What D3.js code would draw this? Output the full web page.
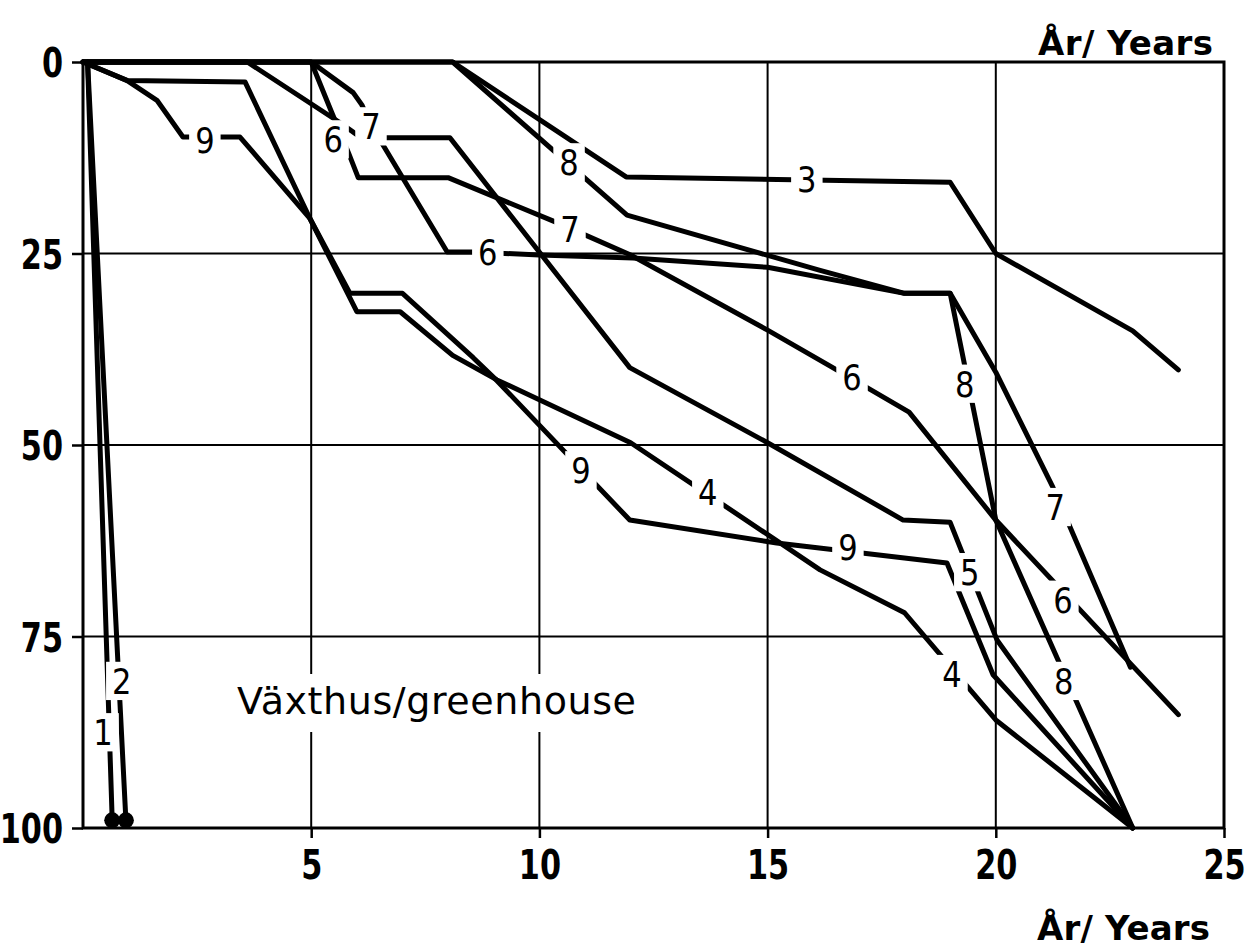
<!DOCTYPE html>
<html>
<head>
<meta charset="utf-8">
<script src="https://cdn.jsdelivr.net/npm/d3@7"></script>
<style>
  html, body { margin: 0; padding: 0; background: #fff; }
  svg { display: block; }
  text { font-family: 'DejaVu Sans', sans-serif; fill: #000; }
</style>
</head>
<body>
<svg id="chart" width="1256" height="949"></svg>
<script>
// tick values
const xTicks = [5, 10, 15, 20, 25];
const yTicks = [0, 25, 50, 75, 100];

// series, [year, percent]
const s1 = [[0.1, 0], [0.64, 99]];
const s2 = [[0.1, 0], [0.94, 99]];
const s3 = [[0, 0], [8.1, 0], [11.9, 15.0], [19.0, 15.7], [20, 25], [23, 35.1], [24, 40.2]];
const s4 = [[0, 0], [0.96, 2.4], [3.55, 2.6], [4.97, 20.4], [6.0, 32.6], [6.95, 32.6], [8.1, 38.3],
            [9.07, 41.5], [12.0, 49.7], [16.15, 66.3], [18.0, 71.9], [20.0, 85.9], [23, 100]];
const s5 = [[0, 0], [3.6, 0], [5.6, 7.8], [6.1, 9.9], [8.04, 9.9], [11.98, 39.9], [15.0, 49.7],
            [17.97, 59.8], [19.0, 60.1], [20.03, 75.5], [23, 100]];
const s6 = [[0, 0], [5, 0], [5.45, 6.6], [5.82, 11.9], [6.03, 15.1], [8.0, 15.1], [10.4, 21.0],
            [12.0, 25.2], [15.0, 35.0], [16.4, 39.8], [18.1, 45.7], [20, 59.8], [24, 85.2]];
const s7 = [[0, 0], [5, 0], [5.92, 4.0], [6.11, 5.6], [6.24, 7.3], [6.57, 10.8], [7.98, 24.8],
            [8.55, 24.8], [10.0, 25.2], [12.05, 25.6], [15.0, 26.8], [18.0, 30.2], [19.0, 30.2],
            [20.0, 40.5], [21.25, 55.5], [22.95, 79.0]];
const s8 = [[0, 0], [8.1, 0], [11.92, 20.0], [16.15, 27.2], [18.0, 30.2], [19.0, 30.2],
            [20.0, 59.8], [23, 100]];
const s9 = [[0, 0], [0.96, 2.4], [1.62, 5.0], [2.19, 9.8], [3.44, 9.8], [4.97, 20.4], [5.85, 30.2],
            [7.0, 30.2], [8.55, 38.6], [9.07, 41.6], [11.98, 59.8], [15.2, 62.8], [18.93, 65.4],
            [19.94, 80.0], [23, 100]];

const allSeries = [s1, s2, s3, s4, s5, s6, s7, s8, s9];
const dotSeries = [s1, s2]; // end marked with a dot

// curve numbers written in the gaps, [text, year, percent]
const curveLabels = [
    ["9", 2.67, 10.2], ["6", 5.48, 10.1], ["7", 6.31, 8.4], ["8", 10.65, 13.1],
    ["3", 15.86, 15.3], ["7", 10.67, 21.8], ["6", 8.87, 24.8], ["6", 16.85, 41.1],
    ["8", 19.32, 42.0], ["9", 10.91, 53.3], ["4", 13.69, 56.1], ["9", 16.76, 63.3],
    ["5", 19.43, 66.6], ["7", 21.3, 58.1], ["6", 21.47, 70.2], ["8", 21.49, 80.8],
    ["4", 19.04, 79.9], ["2", 0.85, 80.8], ["1", 0.44, 87.5]
];

const axisTitle = "År/ Years";
const noteText = "Växthus/greenhouse";

const svg = d3.select("#chart");
const x = d3.scaleLinear().domain([0, 25]).range([83, 1224]);
const y = d3.scaleLinear().domain([0, 100]).range([62, 828]);

// grid
svg.append("g").selectAll("line")
    .data(xTicks.slice(0, -1))
    .enter().append("line")
    .attr("x1", d => x(d)).attr("x2", d => x(d))
    .attr("y1", y(0)).attr("y2", y(100))
    .attr("stroke", "#000").attr("stroke-width", 2);

svg.append("g").selectAll("line")
    .data(yTicks.slice(1, -1))
    .enter().append("line")
    .attr("x1", x(0)).attr("x2", x(25))
    .attr("y1", d => y(d)).attr("y2", d => y(d))
    .attr("stroke", "#000").attr("stroke-width", 2);

// axes (digits squeezed to look like the narrow stencil lettering)
const sq = 0.74;
const xAxis = svg.append("g")
    .attr("transform", `translate(0,${y(100)})`)
    .call(d3.axisBottom(x).tickValues(xTicks).tickSize(10).tickPadding(12));
const yAxis = svg.append("g")
    .attr("transform", `translate(${x(0)},0)`)
    .call(d3.axisLeft(y).tickValues(yTicks).tickSize(11));

[xAxis, yAxis].forEach(g => {
    g.select(".domain").remove();
    g.selectAll(".tick line").attr("stroke", "#000").attr("stroke-width", 2.5);
    g.selectAll(".tick text")
        .attr("font-size", 41).attr("font-weight", "bold")
        .attr("font-family", "'DejaVu Sans', sans-serif")
        .attr("fill", "#000");
});
xAxis.selectAll(".tick text").attr("transform", `scale(${sq},1)`);
yAxis.selectAll(".tick text")
    .attr("x", -20 / sq)
    .attr("dy", "0.36em")
    .attr("transform", `scale(${sq},1)`);

// frame
svg.append("rect")
    .attr("x", x(0)).attr("y", y(0))
    .attr("width", x(25) - x(0)).attr("height", y(100) - y(0))
    .attr("fill", "none").attr("stroke", "#000").attr("stroke-width", 3);

// curves
const line = d3.line().x(d => x(d[0])).y(d => y(d[1]));

svg.append("g").selectAll("path")
    .data(allSeries)
    .enter().append("path")
    .attr("d", line)
    .attr("fill", "none")
    .attr("stroke", "#000")
    .attr("stroke-width", 5)
    .attr("stroke-linejoin", "round")
    .attr("stroke-linecap", "round");

svg.append("g").selectAll("circle")
    .data(dotSeries)
    .enter().append("circle")
    .attr("cx", d => x(d[d.length - 1][0]))
    .attr("cy", d => y(d[d.length - 1][1]))
    .attr("r", 8)
    .attr("fill", "#000");

// greenhouse note, with a white gap in the grid behind it
const note = svg.append("g");
note.append("rect").attr("fill", "#fff")
    .attr("x", 232).attr("y", 674).attr("width", 409).attr("height", 58);
note.append("text")
    .attr("x", 237).attr("y", 714)
    .attr("font-size", 38)
    .attr("textLength", 399)
    .attr("lengthAdjust", "spacing")
    .text(noteText);

// curve numbers
const fs = 36, pad = 6, lsq = 0.85;
const lab = svg.append("g").selectAll("g")
    .data(curveLabels)
    .enter().append("g")
    .attr("transform", d => `translate(${x(d[1])},${y(d[2])})`);

lab.append("rect").attr("fill", "#fff");
lab.append("text")
    .attr("text-anchor", "middle")
    .attr("dy", "0.36em")
    .attr("font-size", fs)
    .attr("transform", `scale(${lsq},1)`)
    .text(d => d[0]);
lab.each(function () {
    const g = d3.select(this);
    const w = g.select("text").node().getBBox().width * lsq;
    const h = fs * 0.73;
    g.select("rect")
        .attr("x", -w / 2 - pad).attr("y", -h / 2 - pad)
        .attr("width", w + 2 * pad).attr("height", h + 2 * pad);
});

// axis titles
svg.append("text")
    .attr("x", 1213).attr("y", 55)
    .attr("text-anchor", "end")
    .attr("font-size", 34).attr("font-weight", "bold")
    .attr("textLength", 175).attr("lengthAdjust", "spacing")
    .text(axisTitle);
svg.append("text")
    .attr("x", 1210).attr("y", 940)
    .attr("text-anchor", "end")
    .attr("font-size", 34).attr("font-weight", "bold")
    .attr("textLength", 173).attr("lengthAdjust", "spacing")
    .text(axisTitle);
</script>
</body>
</html>
